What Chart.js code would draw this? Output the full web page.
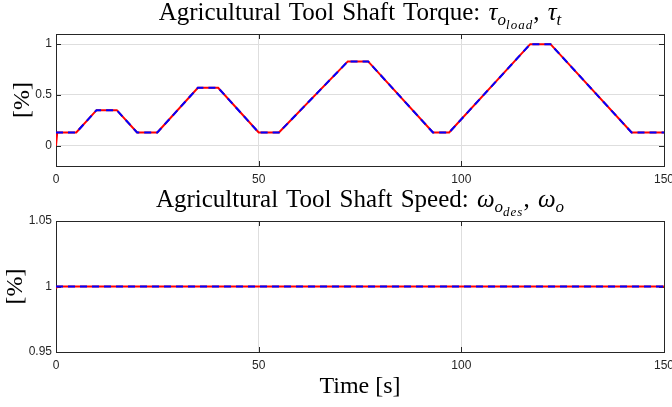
<!DOCTYPE html>
<html>
<head>
<meta charset="utf-8">
<script src="https://cdn.jsdelivr.net/npm/chart.js@4"></script>
<style>
    body { margin: 0; background: #fff; }
    #page { position: relative; width: 672px; height: 407px; overflow: hidden; }
    .panel { position: absolute; left: 0; width: 672px; }
    .panel canvas { display: block; }
    .title {
        position: absolute; left: 56px; width: 608px;
        text-align: center; white-space: nowrap; color: #000;
        font: 25px 'Liberation Serif', serif; line-height: 24px;
        word-spacing: 2px;
    }
    .sub1 { font-size: 17px; position: relative; top: 5px; }
    .sub2 { font-size: 13px; position: relative; top: 4px; letter-spacing: 1px; }
</style>
</head>
<body>
<div id="page">
    <div class="panel" style="top:0;height:190px"><canvas id="torqueChart" width="672" height="190"></canvas></div>
    <div class="panel" style="top:190px;height:217px"><canvas id="speedChart" width="672" height="217"></canvas></div>
    <div class="title" style="top:0">Agricultural Tool Shaft Torque: <i>τ</i><span class="sub1"><i>o</i><span class="sub2"><i>load</i></span></span>, <i>τ</i><span class="sub1"><i>t</i></span></div>
    <div class="title" style="top:187px">Agricultural Tool Shaft Speed: <i>ω</i><span class="sub1"><i>o</i><span class="sub2"><i>des</i></span></span>, <i>ω</i><span class="sub1"><i>o</i></span></div>
</div>
<script>
// Torque profile [%]
const timeLoad = [0, 5, 10, 15, 20, 25, 35, 40, 50, 55, 72, 77, 93, 97, 117, 122, 142, 150];
const loadTorque = [0.13, 0.13, 0.35, 0.35, 0.13, 0.13, 0.57, 0.57, 0.13, 0.13, 0.83, 0.83, 0.13, 0.13, 1.0, 1.0, 0.13, 0.13];
const timeShaft = [0, 0.3, 5, 10, 15, 20, 25, 35, 40, 50, 55, 72, 77, 93, 97, 117, 122, 142, 150];
const shaftTorque = [0, 0.13, 0.13, 0.35, 0.35, 0.13, 0.13, 0.57, 0.57, 0.13, 0.13, 0.83, 0.83, 0.13, 0.13, 1.0, 1.0, 0.13, 0.13];

// Shaft speed [%]
const timeSpeedDes = [0, 150];
const speedDes = [1, 1];
const timeSpeed = [0, 0.3, 150];
const speed = [0.9985, 1, 1];

// Tick labels
const xTicks = [0, 50, 100, 150];
const torqueTicks = [0, 0.5, 1];
const speedTicks = [0.95, 1, 1.05];

const AXIS_COLOR = '#262626';
const GRID_COLOR = '#dedede';
const TICK_LEN = 5;

function toPoints(xs, ys) {
    return xs.map((x, i) => ({ x: x, y: ys[i] }));
}

// MATLAB style box with inward ticks on all sides
const boxPlugin = {
    id: 'matlabBox',
    beforeDatasetsDraw(chart) {
        const { ctx, chartArea: a, scales } = chart;
        ctx.save();
        ctx.strokeStyle = AXIS_COLOR;
        ctx.lineWidth = 1;
        ctx.beginPath();
        scales.x.ticks.forEach(t => {
            const px = Math.round(scales.x.getPixelForValue(t.value)) + 0.5;
            ctx.moveTo(px, a.top); ctx.lineTo(px, a.top + TICK_LEN);
            ctx.moveTo(px, a.bottom); ctx.lineTo(px, a.bottom - TICK_LEN);
        });
        scales.y.ticks.forEach(t => {
            const py = Math.round(scales.y.getPixelForValue(t.value)) + 0.5;
            ctx.moveTo(a.left, py); ctx.lineTo(a.left + TICK_LEN, py);
            ctx.moveTo(a.right, py); ctx.lineTo(a.right - TICK_LEN, py);
        });
        ctx.stroke();
        ctx.strokeRect(Math.round(a.left) + 0.5, Math.round(a.top) + 0.5,
            Math.round(a.right - a.left), Math.round(a.bottom - a.top));
        ctx.restore();
    }
};

function makeChart(id, datasets, opts) {
    const ctx = document.getElementById(id).getContext('2d');
    return new Chart(ctx, {
        type: 'line',
        data: { datasets: datasets },
        plugins: [boxPlugin],
        options: {
            responsive: false,
            animation: false,
            devicePixelRatio: 1,
            layout: { padding: { top: opts.padTop, right: 8, left: 0, bottom: 0 } },
            plugins: { legend: { display: false }, tooltip: { enabled: false } },
            elements: { point: { radius: 0 }, line: { tension: 0 } },
            scales: {
                x: {
                    type: 'linear', min: 0, max: 150,
                    afterBuildTicks: s => { s.ticks = xTicks.map(v => ({ value: v })); },
                    afterFit: s => { s.height = opts.xHeight; s.paddingRight = 0; s.paddingLeft = 0; },
                    grid: { color: GRID_COLOR, drawTicks: false },
                    border: { display: false },
                    ticks: { padding: 6, color: AXIS_COLOR, font: { family: 'Liberation Sans', size: 12 }, maxRotation: 0 },
                    title: opts.xTitle ? {
                        display: true, text: opts.xTitle, color: '#000',
                        font: { family: 'Liberation Serif', size: 24 },
                        padding: { top: 0, bottom: 6 }
                    } : { display: false }
                },
                y: {
                    min: opts.yMin, max: opts.yMax,
                    afterBuildTicks: s => { s.ticks = opts.yTicks.map(v => ({ value: v })); },
                    afterFit: s => { s.width = 56; s.paddingTop = 0; s.paddingBottom = 0; },
                    grid: { color: GRID_COLOR, drawTicks: false },
                    border: { display: false },
                    ticks: {
                        padding: 4, color: AXIS_COLOR, font: { family: 'Liberation Sans', size: 12 },
                        callback: v => String(Math.round(v * 100) / 100)
                    },
                    title: {
                        display: true, text: '[%]', color: '#000',
                        font: { family: 'Liberation Serif', size: 24 },
                        padding: { top: opts.yTitlePad, bottom: 0 }
                    }
                }
            }
        }
    });
}

document.addEventListener('DOMContentLoaded', () => {
    makeChart('torqueChart', [
        { label: 'tau_o_load', data: toPoints(timeLoad, loadTorque), borderColor: '#0000ff', borderWidth: 2, borderDash: [7, 5] },
        { label: 'tau_t', data: toPoints(timeShaft, shaftTorque), borderColor: '#ff0000', borderWidth: 2 }
    ], { padTop: 34, xHeight: 24, yMin: -0.2, yMax: 1.1, yTicks: torqueTicks, yTitlePad: 8 });

    makeChart('speedChart', [
        { label: 'omega_o_des', data: toPoints(timeSpeedDes, speedDes), borderColor: '#0000ff', borderWidth: 2, borderDash: [7, 5] },
        { label: 'omega_o', data: toPoints(timeSpeed, speed), borderColor: '#ff0000', borderWidth: 2 }
    ], { padTop: 31, xHeight: 55, yMin: 0.95, yMax: 1.05, yTicks: speedTicks, yTitlePad: 1, xTitle: 'Time [s]' });
});
</script>
</body>
</html>
